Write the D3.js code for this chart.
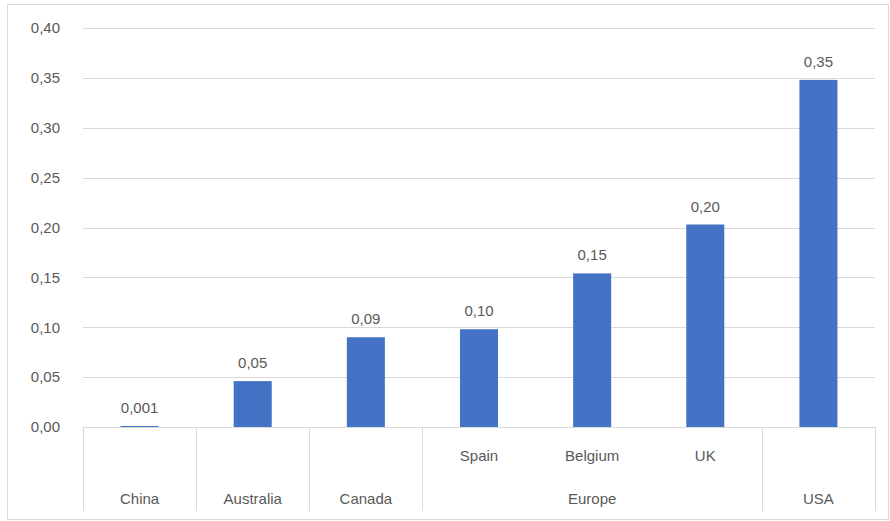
<!DOCTYPE html>
<html lang="en">
<head>
    <meta charset="UTF-8">
    <title>Bar chart by country</title>
    <script src="https://d3js.org/d3.v7.min.js"></script>
    <style>
        body {
            margin: 0;
            background: #fff;
            font-family: 'Liberation Sans', 'Open Sans', sans-serif;
        }
        .tick-label, .value-label, .cat-label {
            fill: #595959;
            font-size: 15px;
        }
    </style>
</head>
<body>
<svg id="chart" width="890" height="521"></svg>
<script>
    // Data
    const countries = ["China", "Australia", "Canada", "Spain", "Belgium", "UK", "USA"];
    const groups = ["", "", "", "Europe", "Europe", "Europe", ""];
    const values = [0.001, 0.046, 0.090, 0.098, 0.154, 0.203, 0.348];
    const valueLabels = ["0,001", "0,05", "0,09", "0,10", "0,15", "0,20", "0,35"];
    const yTicks = [0, 0.05, 0.10, 0.15, 0.20, 0.25, 0.30, 0.35, 0.40];

    const svg = d3.select("#chart");
    const margin = { left: 83, right: 15, top: 28, bottom: 94 };
    const width = 890, height = 521;
    const plotW = width - margin.left - margin.right;  // ~791
    const plotBottom = height - margin.bottom;          // 427

    // outer chart border
    svg.append("rect")
        .attr("x", 7.5).attr("y", 4.5)
        .attr("width", 881).attr("height", 515)
        .attr("fill", "none")
        .attr("stroke", "#d9d9d9");

    const x = d3.scaleBand()
        .domain(countries)
        .range([margin.left, margin.left + plotW])
        .paddingInner(0)
        .paddingOuter(0);

    const y = d3.scaleLinear()
        .domain([0, 0.40])
        .range([plotBottom, margin.top]);

    const fmt = v => d3.format(".2f")(v).replace(".", ",");

    // gridlines
    svg.append("g")
        .selectAll("line")
        .data(yTicks)
        .join("line")
        .attr("x1", margin.left)
        .attr("x2", margin.left + plotW)
        .attr("y1", d => Math.round(y(d)) + 0.5)
        .attr("y2", d => Math.round(y(d)) + 0.5)
        .attr("stroke", "#d9d9d9")
        .attr("stroke-width", 1);

    // y tick labels
    svg.append("g")
        .selectAll("text")
        .data(yTicks)
        .join("text")
        .attr("class", "tick-label")
        .attr("x", 60)
        .attr("y", d => y(d))
        .attr("dy", "0.35em")
        .attr("text-anchor", "end")
        .text(fmt);

    // bars
    const barW = x.bandwidth() * 0.336;
    svg.append("g")
        .selectAll("rect")
        .data(countries)
        .join("rect")
        .attr("x", d => x(d) + (x.bandwidth() - barW) / 2)
        .attr("y", (d, i) => y(values[i]))
        .attr("width", barW)
        .attr("height", (d, i) => y(0) - y(values[i]))
        .attr("fill", "#4472c4");

    // value labels
    svg.append("g")
        .selectAll("text")
        .data(countries)
        .join("text")
        .attr("class", "value-label")
        .attr("x", d => x(d) + x.bandwidth() / 2)
        .attr("y", (d, i) => y(values[i]) - 13)
        .attr("text-anchor", "middle")
        .text((d, i) => valueLabels[i]);

    // category axis: separators between top-level groups
    const axisBottom = 511;
    const separators = [margin.left];
    countries.forEach((c, i) => {
        const next = i + 1;
        if (next === countries.length) { separators.push(x(c) + x.bandwidth()); return; }
        if (!(groups[i] !== "" && groups[i] === groups[next])) separators.push(x(countries[next]));
    });
    svg.append("g")
        .selectAll("line")
        .data(separators)
        .join("line")
        .attr("x1", d => Math.round(d) + 0.5)
        .attr("x2", d => Math.round(d) + 0.5)
        .attr("y1", plotBottom)
        .attr("y2", axisBottom)
        .attr("stroke", "#d9d9d9");

    // sub-category labels (countries inside a group)
    svg.append("g")
        .selectAll("text")
        .data(countries.filter((c, i) => groups[i] !== ""))
        .join("text")
        .attr("class", "cat-label")
        .attr("x", d => x(d) + x.bandwidth() / 2)
        .attr("y", 461)
        .attr("text-anchor", "middle")
        .text(d => d);

    // top-level labels: ungrouped countries and group names
    const topLabels = [];
    countries.forEach((c, i) => {
        if (groups[i] === "") {
            topLabels.push({ name: c, x0: x(c), x1: x(c) + x.bandwidth() });
        } else {
            const last = topLabels[topLabels.length - 1];
            if (last && last.name === groups[i]) last.x1 = x(c) + x.bandwidth();
            else topLabels.push({ name: groups[i], x0: x(c), x1: x(c) + x.bandwidth() });
        }
    });
    svg.append("g")
        .selectAll("text")
        .data(topLabels)
        .join("text")
        .attr("class", "cat-label")
        .attr("x", d => (d.x0 + d.x1) / 2)
        .attr("y", 504)
        .attr("text-anchor", "middle")
        .text(d => d.name);
</script>
</body>
</html>
